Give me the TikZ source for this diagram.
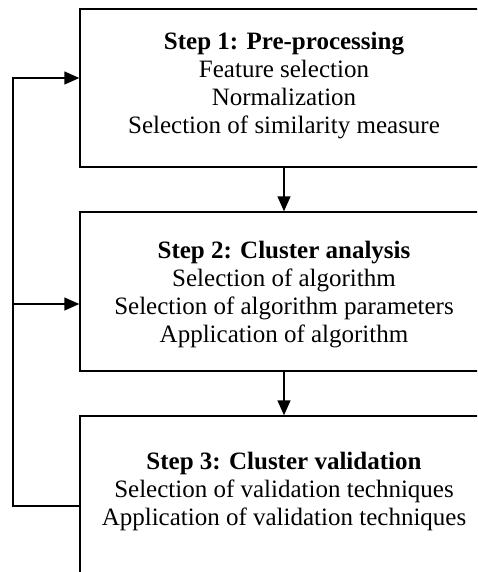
\documentclass[tikz,border=0pt]{standalone}
\usepackage{fontspec}
\setmainfont{Liberation Serif}
\usetikzlibrary{arrows.meta}
\begin{document}
\begin{tikzpicture}[x=1pt,y=-1pt,
  stepbox/.style={draw,line width=1.4pt,rectangle,inner sep=0pt,minimum width=408pt},
  steptext/.style={align=center,font=\fontsize{25}{28}\selectfont,inner sep=0pt},
  conn/.style={line width=1.4pt},
  arr/.style={conn,-{Triangle[length=15pt,width=13pt]}}]
\useasboundingbox (0,0) rectangle (477,572);
\clip (0,0) rectangle (477,572);
\node[stepbox,minimum height=158pt] (b1) at (284,88) {};
\node[stepbox,minimum height=159pt] (b2) at (284,291.5) {};
\node[stepbox,minimum height=200pt] (b3) at (284,516) {};
\node[steptext] (t1) at (284,86) {\textbf{Step 1: Pre-processing}\\Feature selection\\Normalization\\Selection of similarity measure};
\node[steptext] (t2) at (284,295) {\textbf{Step 2: Cluster analysis}\\Selection of algorithm\\Selection of algorithm parameters\\Application of algorithm};
\node[steptext] (t3) at (284,491) {\textbf{Step 3: Cluster validation}\\Selection of validation techniques\\Application of validation techniques};
\coordinate (ftop) at (13,78);
\coordinate (fmid) at (13,304);
\coordinate (fbot) at (13,506);
\draw[arr] (b1.south) -- (b2.north);
\draw[arr] (b2.south) -- (b3.north);
\draw[arr] (b3.west |- fbot) -- (fbot) -- (ftop) -- (b1.west |- ftop);
\draw[arr] (fmid) -- (b2.west |- fmid);
\end{tikzpicture}
\end{document}
